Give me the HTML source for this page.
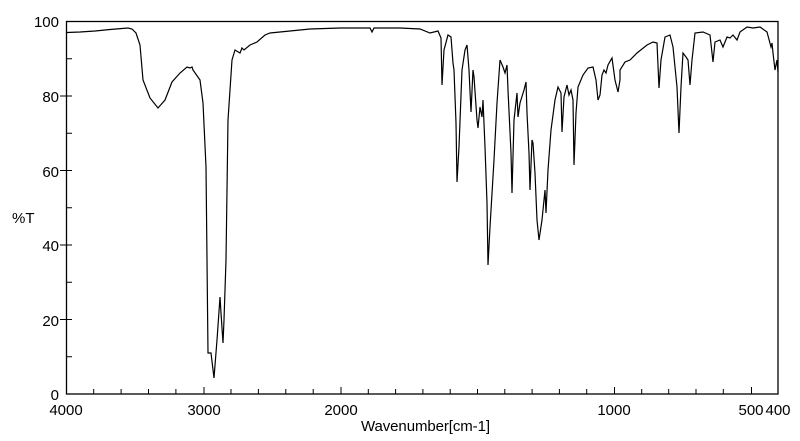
<!DOCTYPE html>
<html><head><style>body{margin:0;background:#fff}svg{display:block}</style></head><body>
<svg width="800" height="441" xmlns="http://www.w3.org/2000/svg" font-family="Liberation Sans, sans-serif" font-size="15">
<rect x="66.5" y="21.5" width="711.5" height="372.5" fill="none" stroke="#000" stroke-width="1.3"/>
<g stroke="#000" stroke-width="1">
<line x1="66" y1="58.75" x2="72" y2="58.75"/><line x1="60" y1="96" x2="72" y2="96"/>
<line x1="66" y1="133.25" x2="72" y2="133.25"/><line x1="60" y1="170.5" x2="72" y2="170.5"/>
<line x1="66" y1="207.75" x2="72" y2="207.75"/><line x1="60" y1="245" x2="72" y2="245"/>
<line x1="66" y1="282.25" x2="72" y2="282.25"/><line x1="60" y1="319.5" x2="72" y2="319.5"/>
<line x1="66" y1="356.75" x2="72" y2="356.75"/>
<line x1="93.7" y1="394" x2="93.7" y2="389"/><line x1="121.1" y1="394" x2="121.1" y2="389"/><line x1="148.5" y1="394" x2="148.5" y2="389"/><line x1="175.9" y1="394" x2="175.9" y2="389"/>
<line x1="204" y1="394" x2="204" y2="387"/>
<line x1="231" y1="394" x2="231" y2="389"/><line x1="258.4" y1="394" x2="258.4" y2="389"/><line x1="285.8" y1="394" x2="285.8" y2="389"/><line x1="313.2" y1="394" x2="313.2" y2="389"/>
<line x1="341" y1="394" x2="341" y2="387"/>
<line x1="368.3" y1="394" x2="368.3" y2="389"/><line x1="395.6" y1="394" x2="395.6" y2="389"/><line x1="422.9" y1="394" x2="422.9" y2="389"/><line x1="450.2" y1="394" x2="450.2" y2="389"/>
<line x1="477.5" y1="394" x2="477.5" y2="389"/>
<line x1="504.8" y1="394" x2="504.8" y2="389"/><line x1="532.1" y1="394" x2="532.1" y2="389"/><line x1="559.4" y1="394" x2="559.4" y2="389"/><line x1="586.7" y1="394" x2="586.7" y2="389"/>
<line x1="614.5" y1="394" x2="614.5" y2="387"/>
<line x1="641.7" y1="394" x2="641.7" y2="389"/><line x1="668.7" y1="394" x2="668.7" y2="389"/><line x1="696" y1="394" x2="696" y2="389"/><line x1="723.3" y1="394" x2="723.3" y2="389"/>
<line x1="751.5" y1="394" x2="751.5" y2="387"/>
</g>
<g text-anchor="end">
<text x="59" y="27">100</text><text x="59" y="102">80</text><text x="59" y="177">60</text>
<text x="59" y="251">40</text><text x="59" y="326">20</text><text x="59" y="400">0</text>
</g>
<text x="12" y="223">%T</text>
<g text-anchor="middle">
<text x="66" y="415">4000</text><text x="204" y="415">3000</text><text x="341" y="415">2000</text>
<text x="614" y="415">1000</text><text x="751" y="415">500</text>
</g>
<text x="778" y="415" text-anchor="middle">400</text>
<text x="361" y="431" textLength="129">Wavenumber[cm-1]</text>
<polyline fill="none" stroke="#000" stroke-width="1.2" points="67,32.5 80,32 95,31 110,29.5 128,28 132,29 136,33 140,45 143,80 150,98 158,108 165,100 172,82 180,73 187,67 190,68 192,67 193,70 200,80 203,103 206,167 208,353 211,353 214,378 217,340 220,297 221,313 223,343 224,320 226,260 228,120 232,60 235,50 240,53 242,48 244,50 250,45 257,42 265,35 270,33 290,31 310,29 340,28 370,28 372,32 374,28 400,28 420,29 430,33 438,31 441,38 442,85 444,50 448,35 451,37 453,63 454,70 456,123 457,182 459,147 462,70 465,50 467,45 469,70 471,112 473,70 474,77 477,120 478,128 480,107 482,117 483,100 485,147 487,203 488,265 490,227 494,160 497,103 500,60 503,67 505,73 507,65 508,90 511,153 512,193 514,120 517,93 518,117 520,103 524,90 526,82 527,113 529,153 530,190 532,140 533,143 535,173 537,220 539,240 542,220 545,190 546,213 548,170 551,130 555,100 558,87 561,93 562,132 564,97 567,85 569,95 571,90 573,100 574,165 576,113 578,87 583,75 588,68 593,67 596,80 598,100 600,95 602,75 604,70 606,73 608,65 612,58 615,80 618,92 620,80 620,70 625,62 630,60 637,53 647,45 653,42 657,43 659,88 661,60 665,37 670,35 673,47 677,87 679,133 681,87 683,53 686,57 688,60 690,85 692,60 695,33 703,32 710,35 713,62 715,42 720,40 723,47 727,37 730,38 733,35 737,40 740,32 747,27 753,28 760,27 767,32 771,47 772,43 773,53 775,70 777,60 778,72"/>
</svg>
</body></html>
